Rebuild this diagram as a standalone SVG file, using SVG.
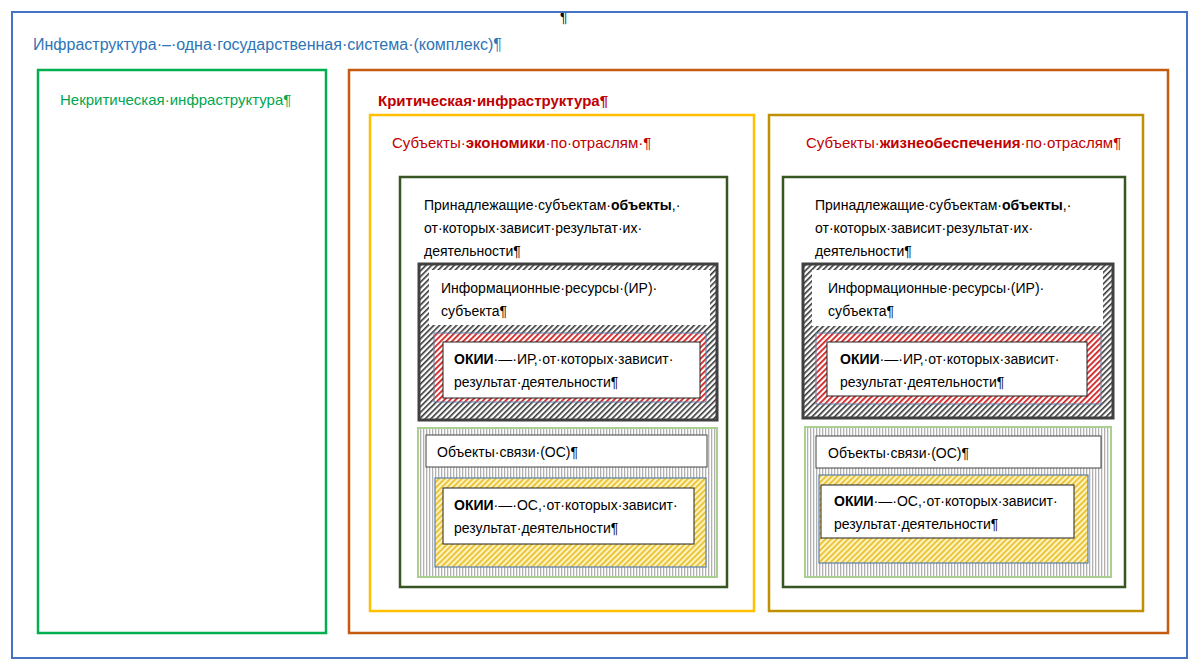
<svg xmlns="http://www.w3.org/2000/svg" width="1200" height="671" viewBox="0 0 1200 671">
<defs>
<style>
text{font-family:"Liberation Sans","DejaVu Sans",sans-serif;font-size:14px;fill:#000}
.blue{fill:#2e74b5;font-size:16px}
.grn{fill:#00a651;font-size:15px}
.red{fill:#c00000;font-size:15px}
.w{fill:#fff}
</style>
<pattern id="hk" width="4" height="4" patternUnits="userSpaceOnUse" patternTransform="rotate(45)"><rect width="4" height="4" fill="#fff"/><rect width="1.6" height="4" fill="#333"/></pattern>
<pattern id="hr" width="4" height="4" patternUnits="userSpaceOnUse" patternTransform="rotate(45)"><rect width="4" height="4" fill="#fff"/><rect width="1.8" height="4" fill="#d02020"/></pattern>
<pattern id="hy" width="4" height="4" patternUnits="userSpaceOnUse" patternTransform="rotate(45)"><rect width="4" height="4" fill="#fff4c0"/><rect width="1.8" height="4" fill="#e8c030"/></pattern>
<pattern id="hg" width="3" height="3" patternUnits="userSpaceOnUse"><rect width="3" height="3" fill="#fff"/><rect width="1.3" height="3" fill="#b0b0b0"/></pattern>
</defs>
<rect width="1200" height="671" fill="#fff"/>
<text x="560" y="22" font-size="12">¶</text>
<g id="outer"><rect x="12" y="12" width="1175" height="646" fill="none" stroke="#4472c4" stroke-width="2"/>
<text class="blue" x="33" y="50">Инфраструктура·–·одна·государственная·система·(комплекс)¶</text></g>
<g id="noncrit"><rect x="38" y="70" width="288" height="563" fill="none" stroke="#00b050" stroke-width="2.5"/>
<text class="grn" x="60" y="105">Некритическая·инфраструктура¶</text></g>
<g id="crit"><rect x="349" y="70" width="819" height="563" fill="none" stroke="#c55a11" stroke-width="2.5"/>
<text class="red" x="378" y="106" font-weight="bold">Критическая·инфраструктура¶</text></g>

<g id="econ"><rect x="370" y="115" width="384" height="496" fill="none" stroke="#ffc000" stroke-width="2.5"/>
<text class="red" x="392" y="148">Субъекты·<tspan font-weight="bold">экономики</tspan>·по·отраслям·¶</text></g>
<g id="life"><rect x="769" y="115" width="374" height="496" fill="none" stroke="#bf9000" stroke-width="2.5"/>
<text class="red" x="806" y="148">Субъекты·<tspan font-weight="bold">жизнеобеспечения</tspan>·по·отраслям¶</text></g>

<g id="objL"><rect x="400" y="177" width="327" height="410" fill="none" stroke="#375623" stroke-width="2.5"/>
<text x="424" y="210">Принадлежащие·субъектам·<tspan font-weight="bold">объекты</tspan>,·</text>
<text x="424" y="233">от·которых·зависит·результат·их·</text>
<text x="424" y="256">деятельности¶</text></g>
<g id="irL"><rect x="419" y="264" width="298" height="156" fill="url(#hk)" stroke="#404040" stroke-width="3"/>
<rect x="429" y="270" width="281" height="55" fill="#fff"/>
<text x="441" y="293">Информационные·ресурсы·(ИР)·</text><text x="441" y="316">субъекта¶</text></g>
<g id="okiiIrL"><rect x="434" y="333" width="272" height="69" fill="url(#hr)" stroke="#5b7fa8" stroke-width="1"/>
<rect x="443" y="342" width="257" height="56" fill="#fff" stroke="#222" stroke-width="1"/>
<text x="454" y="364"><tspan font-weight="bold">ОКИИ</tspan>·—·ИР,·от·которых·зависит·</text><text x="454" y="387">результат·деятельности¶</text></g>
<g id="osL"><rect x="418" y="428" width="299" height="149" fill="url(#hg)" stroke="#a9d08e" stroke-width="2"/>
<rect x="426" y="435" width="281" height="32" fill="#fff" stroke="#444" stroke-width="1"/>
<text x="437" y="457">Объекты·связи·(ОС)¶</text></g>
<g id="okiiOsL"><rect x="435" y="478" width="271" height="89" fill="url(#hy)" stroke="#5b7fa8" stroke-width="1.2"/>
<rect x="443" y="488" width="251" height="56" fill="#fff" stroke="#222" stroke-width="1"/>
<text x="454" y="510"><tspan font-weight="bold">ОКИИ</tspan>·—·ОС,·от·которых·зависит·</text><text x="454" y="533">результат·деятельности¶</text></g>

<g id="objR"><rect x="783" y="177" width="342" height="410" fill="none" stroke="#375623" stroke-width="2.5"/>
<text x="815" y="210">Принадлежащие·субъектам·<tspan font-weight="bold">объекты</tspan>,·</text>
<text x="815" y="233">от·которых·зависит·результат·их·</text>
<text x="815" y="256">деятельности¶</text></g>
<g id="irR"><rect x="803" y="264" width="310" height="154" fill="url(#hk)" stroke="#404040" stroke-width="3"/>
<rect x="812" y="270" width="291" height="56" fill="#fff"/>
<text x="828" y="293">Информационные·ресурсы·(ИР)·</text><text x="828" y="316">субъекта¶</text></g>
<g id="okiiIrR"><rect x="816" y="333" width="285" height="71" fill="url(#hr)" stroke="#5b7fa8" stroke-width="1"/>
<rect x="827" y="342" width="260" height="54" fill="#fff" stroke="#222" stroke-width="1"/>
<text x="840" y="364"><tspan font-weight="bold">ОКИИ</tspan>·—·ИР,·от·которых·зависит·</text><text x="840" y="387">результат·деятельности¶</text></g>
<g id="osR"><rect x="805" y="427" width="306" height="150" fill="url(#hg)" stroke="#a9d08e" stroke-width="2"/>
<rect x="816" y="436" width="285" height="32" fill="#fff" stroke="#444" stroke-width="1"/>
<text x="828" y="458">Объекты·связи·(ОС)¶</text></g>
<g id="okiiOsR"><rect x="819" y="475" width="269" height="88" fill="url(#hy)" stroke="#5b7fa8" stroke-width="1.2"/>
<rect x="821" y="485" width="253" height="53" fill="#fff" stroke="#222" stroke-width="1"/>
<text x="834" y="506"><tspan font-weight="bold">ОКИИ</tspan>·—·ОС,·от·которых·зависит·</text><text x="834" y="529">результат·деятельности¶</text></g>
<g id="connectors"/>
</svg>
